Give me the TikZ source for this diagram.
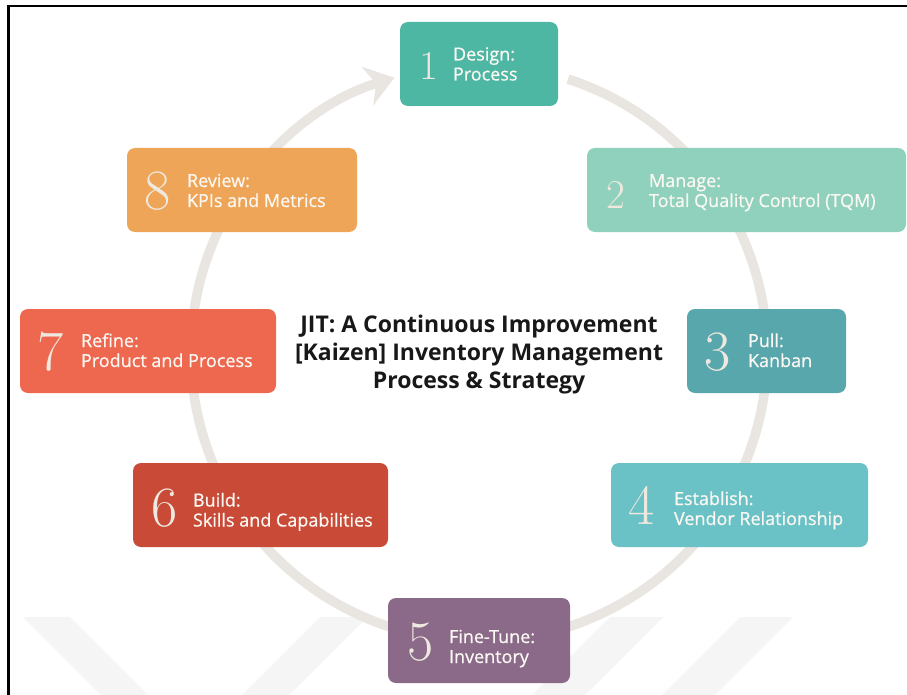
\documentclass[tikz,border=0pt]{standalone}
\usepackage{fontspec}
\newfontfamily\osans{Open Sans}
\newfontfamily\osansm[FakeBold=0.7]{Open Sans}
\usetikzlibrary{arrows.meta}
\definecolor{ringc}{RGB}{233,229,224}
\definecolor{wmc}{RGB}{245,245,245}
\definecolor{numc}{RGB}{238,232,222}
\definecolor{lblc}{RGB}{251,248,243}
\definecolor{titlec}{RGB}{24,24,24}
\definecolor{cA}{RGB}{77,183,164}
\definecolor{cB}{RGB}{143,209,188}
\definecolor{cC}{RGB}{88,167,173}
\definecolor{cD}{RGB}{107,194,198}
\definecolor{cE}{RGB}{138,105,137}
\definecolor{cF}{RGB}{200,74,55}
\definecolor{cG}{RGB}{238,104,80}
\definecolor{cH}{RGB}{239,165,88}
\tikzset{
  stepbox/.style={rounded corners=8pt, inner sep=0pt, draw=none, minimum height=84pt},
  bignum/.style={anchor=west, inner sep=0pt, text=numc, font=\fontsize{57}{57}\selectfont},
  smallnum/.style={anchor=west, inner sep=0pt, text=numc, font=\fontsize{41}{41}\selectfont},
  lbl/.style={anchor=west, inner sep=0pt, align=left, text=lblc, font=\osansm\fontsize{18}{20}\selectfont},
  titletxt/.style={inner sep=0pt, align=center, text=titlec, font=\osans\bfseries\fontsize{23}{28}\selectfont},
  ringline/.style={draw=ringc, line width=9.5pt, -{Stealth[length=28pt,width=40pt,inset=9pt]}},
  wm/.style={fill=wmc},
  frame/.style={draw=black, line width=2.5pt}
}
\begin{document}
\begin{tikzpicture}[x=1pt,y=-1pt]
\useasboundingbox (0,0) rectangle (907,695);
\fill[white] (0,0) rectangle (907,695);
% faint watermark
\fill[wm] (23,617) -- (70,617) -- (148,695) -- (101,695) -- cycle;
\fill[wm] (320,617) -- (367,617) -- (289,695) -- (242,695) -- cycle;
\fill[wm] (610,617) -- (663,617) -- (585,695) -- (532,695) -- cycle;
\fill[wm] (740,617) -- (793,617) -- (715,695) -- (662,695) -- cycle;
% cycle ring
\coordinate (ctr) at (479,353);
\draw[ringline] (ctr) ++(-72:288) arc[start angle=-72, end angle=252.9, radius=288];
% boxes
\node[stepbox, fill=cA, minimum width=158pt] (b1) at (479,64) {};
\node[stepbox, fill=cB, minimum width=319pt] (b2) at (746.5,190) {};
\node[stepbox, fill=cC, minimum width=159pt] (b3) at (766.5,351) {};
\node[stepbox, fill=cD, minimum width=257pt] (b4) at (739.5,505) {};
\node[stepbox, fill=cE, minimum width=182pt, minimum height=85pt] (b5) at (479,640.5) {};
\node[stepbox, fill=cF, minimum width=255pt] (b6) at (260.5,505) {};
\node[stepbox, fill=cG, minimum width=256pt] (b7) at (148,351) {};
\node[stepbox, fill=cH, minimum width=230pt] (b8) at (242,190) {};
% numbers
\node[smallnum] (n1) at ([xshift=19pt,yshift=-2pt]b1.west) {1};
\node[smallnum] (n2) at ([xshift=19pt,yshift=-5pt]b2.west) {2};
\node[bignum] (n3) at ([xshift=17pt,yshift=-1pt]b3.west) {3};
\node[bignum] (n4) at ([xshift=17pt,yshift=0pt]b4.west) {4};
\node[bignum] (n5) at ([xshift=19pt,yshift=-2pt]b5.west) {5};
\node[bignum] (n6) at ([xshift=18pt,yshift=-3pt]b6.west) {6};
\node[bignum] (n7) at ([xshift=17pt,yshift=-1pt]b7.west) {7};
\node[bignum] (n8) at ([xshift=17pt,yshift=-1pt]b8.west) {8};
% labels
\node[lbl] (t1) at ([xshift=53pt,yshift=-2.5pt]b1.west) {Design:\strut\\Process\strut};
\node[lbl] (t2) at ([xshift=62pt,yshift=-3pt]b2.west) {Manage:\strut\\Total Quality Control (TQM)\strut};
\node[lbl] (t3) at ([xshift=61pt,yshift=-2pt]b3.west) {Pull:\strut\\Kanban\strut};
\node[lbl] (t4) at ([xshift=63pt,yshift=-6pt]b4.west) {Establish:\strut\\Vendor Relationship\strut};
\node[lbl] (t5) at ([xshift=61pt,yshift=-8.5pt]b5.west) {Fine-Tune:\strut\\Inventory\strut};
\node[lbl] (t6) at ([xshift=60pt,yshift=-7.5pt]b6.west) {Build:\strut\\Skills and Capabilities\strut};
\node[lbl] (t7) at ([xshift=61pt,yshift=-2pt]b7.west) {Refine:\strut\\Product and Process\strut};
\node[lbl] (t8) at ([xshift=60pt,yshift=-3pt]b8.west) {Review:\strut\\KPIs and Metrics\strut};
% title
\node[titletxt] (title) at (479,354.4) {JIT: A Continuous Improvement\strut\\{[Kaizen]} Inventory Management\strut\\Process \& Strategy\strut};
% frame
\draw[frame] (8.3,695) -- (8.3,6) -- (907,6);
\end{tikzpicture}
\end{document}
